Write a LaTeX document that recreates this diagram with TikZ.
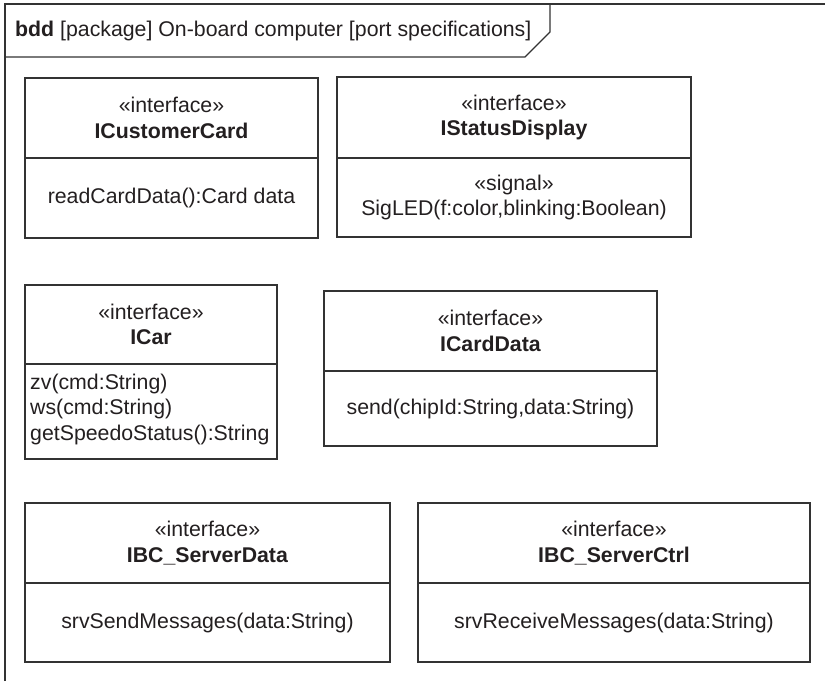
\documentclass[tikz,border=0pt]{standalone}
\usepackage{fontspec}
\setmainfont{Liberation Sans}
\usetikzlibrary{fit}
\definecolor{ink}{HTML}{231F20}
\definecolor{edge}{HTML}{333333}
\tikzset{
  umlbox/.style={draw=edge, line width=1.2pt, inner sep=0pt, rectangle},
  umlline/.style={draw=edge, line width=1.2pt},
  frameline/.style={draw=edge, line width=1.4pt},
  txt/.style={text=ink, font=\fontsize{21.3}{25.5}\selectfont, align=center, inner sep=0pt},
}
\newcommand\umlclass[9]{%
  \node[umlbox, fit={(#2,#3) (#4,#5)}] (#1) {};
  \draw[umlline] (#1.west |- 0,#6) -- (#1.east |- 0,#6);
  \node[txt] (#1-head) at ({(#2+#4)/2},{(#3+#6)/2}) {«interface»\\\textbf{#7}};
  \node[txt] (#1-body) at ({(#2+#4)/2},{(#6+#5)/2}) {#8};
}
\begin{document}
\begin{tikzpicture}[x=1pt,y=-1pt]
\useasboundingbox (0,0) rectangle (825,681);
% frame
\draw[frameline] (5,681) -- (5,4) -- (825,4);
\draw[frameline] (5,57) -- (525,57) -- (550,32) -- (550,4);
\node[txt, anchor=base west] (title) at (15,36) {\textbf{bdd} [package] On-board computer [port specifications]};
% row 1
\umlclass{cust}{25}{78}{318}{238}{158}{ICustomerCard}{readCardData():Card data}{}
\umlclass{stat}{337}{77}{691}{237}{158}{IStatusDisplay}{«signal»\\SigLED(f:color,blinking:Boolean)}{}
% row 2
\node[umlbox, fit={(25,285) (277,459)}] (car) {};
\draw[umlline] (car.west |- 0,364) -- (car.east |- 0,364);
\node[txt] (car-head) at (151,324.5) {«interface»\\\textbf{ICar}};
\node[txt, anchor=west, align=left] (car-body) at (30,409) {zv(cmd:String)\\ws(cmd:String)\\getSpeedoStatus():String};
\umlclass{card}{324}{291}{657}{446}{371}{ICardData}{send(chipId:String,data:String)}{}
% row 3
\umlclass{srvd}{25}{503}{390}{662}{583}{IBC\_ServerData}{srvSendMessages(data:String)}{}
\umlclass{srvc}{418}{503}{810}{662}{583}{IBC\_ServerCtrl}{srvReceiveMessages(data:String)}{}
\end{tikzpicture}
\end{document}
